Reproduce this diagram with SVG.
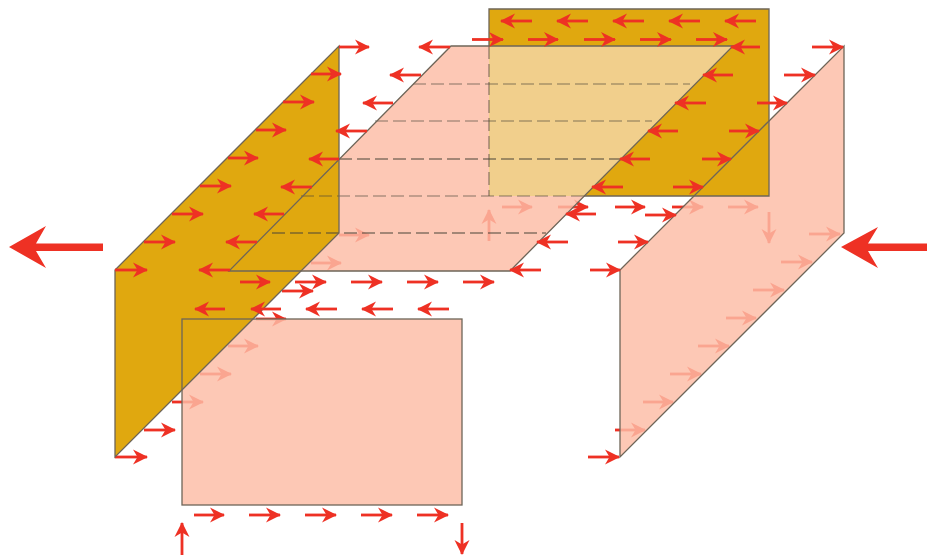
<svg xmlns="http://www.w3.org/2000/svg" width="927" height="556" viewBox="0 0 927 556">
<style>
.pink{fill:#fdbda6;fill-opacity:.83}
.gold{fill:#e0a80f}
.pale{fill:#f1cf8c}
.edge{fill:none;stroke:#6e6558;stroke-width:1.3}
.dash{fill:none;stroke:#4a4438;stroke-width:1.2;stroke-dasharray:13 5}
.soft{opacity:.65}
.a{fill:none;stroke:#ee3124;stroke-width:2.8;marker-end:url(#h)}
.big{fill:#ee3124}
</style>
<defs>
<marker id="h" markerUnits="userSpaceOnUse" markerWidth="18" markerHeight="20" refX="15" refY="9" orient="auto">
<path d="M16 9 L1 1.500 L5.500 9 L1 16.500 Z" fill="#ee3124"/>
</marker>
</defs>
<rect width="927" height="556" fill="#fff"/>
<g id="connectors-behind">
<path class="a" d="M144 430H175"/><path class="a" d="M172 402H203"/><path class="a" d="M200 374H231"/><path class="a" d="M228 346H258"/><path class="a" d="M256 319H286"/><path class="a" d="M282 291H313"/><path class="a" d="M311 263H341"/><path class="a" d="M339 235H369"/>
<path class="a" d="M115 457H147"/>
<path class="a" d="M502 207H532"/><path class="a" d="M558 207H588"/><path class="a" d="M615 207H645"/><path class="a" d="M672 207H703"/><path class="a" d="M728 207H758"/>
<path class="a" d="M489 241V210"/><path class="a" d="M769 212V243"/>
<path class="a" d="M809 234H840"/><path class="a" d="M781 262H812"/><path class="a" d="M753 290H784"/><path class="a" d="M726 318H756"/><path class="a" d="M698 346H729"/><path class="a" d="M670 374H701"/><path class="a" d="M643 402H673"/><path class="a" d="M615 430H645"/>
</g>
<g id="right-wall"><polygon class="pink" points="844,46 844,233 620,457 620,270"/></g>
<g id="floor"><polygon class="pink" points="451,46 733,46 510,271 229,271"/></g>
<g id="front-wall"><rect class="pink" x="182" y="319" width="280" height="186"/></g>
<g id="left-wall"><polygon class="gold" points="339,46 339,233 115,457 115,270"/></g>
<g id="back-wall">
<rect class="gold" x="489" y="9" width="280" height="187"/>
<polygon class="pale" points="489,46 733,46 584,196 489,196"/>
</g>
<g id="fold-lines">
<path class="dash soft" d="M413 84H690"/><path class="dash soft" d="M375 121H652"/><path class="dash" d="M339 159H620"/><path class="dash soft" d="M301 196H584"/><path class="dash" d="M272 233H546"/><path class="dash soft" d="M489 46V196"/>
</g>
<g id="outlines">
<polygon class="edge" points="844,46 844,233 620,457 620,270"/>
<polygon class="edge" points="451,46 733,46 510,271 229,271"/>
<rect class="edge" x="182" y="319" width="280" height="186"/>
<polygon class="edge" points="339,46 339,233 115,457 115,270"/>
<path class="edge" d="M489 46V9H769V196H584"/>
</g>
<g id="connectors">
<path class="a" d="M115 270H147"/><path class="a" d="M144 242H175"/><path class="a" d="M172 214H203"/><path class="a" d="M200 186H231"/><path class="a" d="M228 158H258"/><path class="a" d="M256 130H286"/><path class="a" d="M283 102H314"/><path class="a" d="M311 74H341"/><path class="a" d="M339 47H369"/>
<path class="a" d="M450 47H419"/><path class="a" d="M421 75H390"/><path class="a" d="M393 103H363"/><path class="a" d="M367 131H336"/><path class="a" d="M339 159H309"/><path class="a" d="M312 187H281"/><path class="a" d="M284 214H254"/><path class="a" d="M257 242H226"/><path class="a" d="M230 270H199"/>
<path class="a" d="M225 309H195"/><path class="a" d="M281 309H251"/><path class="a" d="M337 309H306"/><path class="a" d="M393 309H362"/><path class="a" d="M449 309H418"/>
<path class="a" d="M240 282H270"/><path class="a" d="M295 282H326"/><path class="a" d="M351 282H382"/><path class="a" d="M407 282H438"/><path class="a" d="M463 282H494"/>
<path class="a" d="M194 515H224"/><path class="a" d="M249 515H280"/><path class="a" d="M305 515H336"/><path class="a" d="M361 515H392"/><path class="a" d="M417 515H448"/>
<path class="a" d="M182 555V523"/><path class="a" d="M462 523V554"/>
<path class="a" d="M532 21H501"/><path class="a" d="M588 21H557"/><path class="a" d="M644 21H613"/><path class="a" d="M700 21H669"/><path class="a" d="M756 21H725"/>
<path class="a" d="M472 39.500H503"/><path class="a" d="M528 39.500H558"/><path class="a" d="M584 39.500H615"/><path class="a" d="M640 39.500H671"/><path class="a" d="M696 39.500H727"/>
<path class="a" d="M760 47H731"/><path class="a" d="M733 75H703"/><path class="a" d="M706 103H675"/><path class="a" d="M678 131H648"/><path class="a" d="M650 159H620"/><path class="a" d="M623 187H592"/><path class="a" d="M596 214H566"/><path class="a" d="M568 242H537"/><path class="a" d="M541 270H510"/>
<path class="a" d="M812 47H843"/><path class="a" d="M784 75H815"/><path class="a" d="M757 103H787"/><path class="a" d="M729 131H759"/><path class="a" d="M702 159H731"/><path class="a" d="M673 187H703"/><path class="a" d="M645 215H676"/><path class="a" d="M618 242H648"/><path class="a" d="M590 270H620"/><path class="a" d="M588 457H619"/>
<polygon class="big" points="9,247 46,226 36,243.500 103,243.500 103,251 36,251 46,268"/>
<polygon class="big" points="841,247 878,227 868,243.500 927,243.500 927,251 868,251 878,268"/>
</g>
</svg>
